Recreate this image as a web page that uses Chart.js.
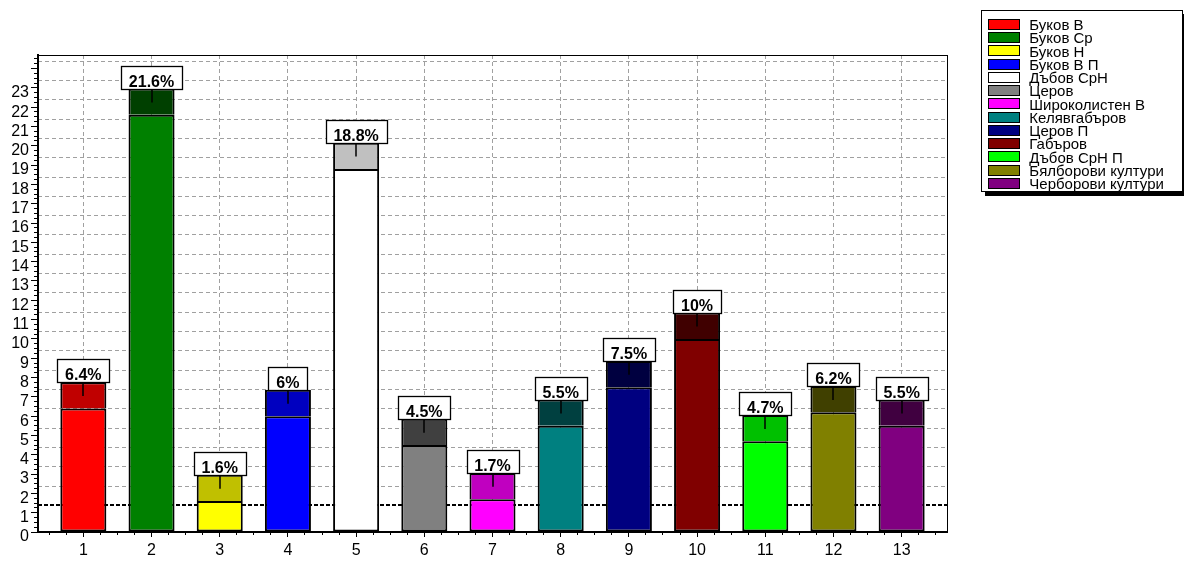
<!DOCTYPE html>
<html>
<head>
<meta charset="utf-8">
<script src="https://cdn.jsdelivr.net/npm/chart.js@4.4.1/dist/chart.umd.min.js"></script>
<style>
html,body{margin:0;padding:0;background:#fff;width:1184px;height:561px;overflow:hidden;}
#wrap{position:relative;width:1184px;height:561px;}
#c{position:absolute;left:0;top:0;}
#legend{position:absolute;left:981px;top:10px;width:202px;height:182px;border:1px solid #000;background:#fff;
  box-shadow:4px 4px 0 #000;font:15px "Liberation Sans",Arial,sans-serif;color:#000;box-sizing:border-box;padding-top:6.6px;}
.item{height:13.26px;position:relative;white-space:nowrap;}
.sw{position:absolute;left:6.3px;top:1.3px;width:32px;height:11px;border:1px solid #000;box-sizing:border-box;}
.lb{position:absolute;left:47.3px;top:-1.5px;line-height:17px;}
</style>
</head>
<body>
<div id="wrap">
  <canvas id="c" width="1184" height="561"></canvas>
  <div id="legend"></div>
</div>
<script>
// ---- data ----
const categories = [1, 2, 3, 4, 5, 6, 7, 8, 9, 10, 11, 12, 13];
const seriesNames = ['Буков В', 'Буков Ср', 'Буков Н', 'Буков В П', 'Дъбов СрН', 'Церов',
  'Широколистен В', 'Келявгабъров', 'Церов П', 'Габъров', 'Дъбов СрН П',
  'Бялборови култури', 'Черборови култури'];
const sharePercent = [6.4, 21.6, 1.6, 6, 18.8, 4.5, 1.7, 5.5, 7.5, 10, 4.7, 6.2, 5.5];
const upperBand = [1.36, 1.36, 1.36, 1.36, 1.36, 1.36, 1.36, 1.36, 1.36, 1.36, 1.36, 1.36, 1.36];
const errorHalf = [0.72, 0.72, 0.72, 0.72, 0.72, 0.72, 0.72, 0.72, 0.72, 0.72, 0.72, 0.72, 0.72];
const thresholdValue = 1.4;
const yTickValues = [0, 1, 2, 3, 4, 5, 6, 7, 8, 9, 10, 11, 12, 13, 14, 15, 16, 17, 18, 19, 20, 21, 22, 23];

// ---- styles ----
const baseColors = ['#FF0000', '#008000', '#FFFF00', '#0000FF', '#FFFFFF', '#808080', '#FF00FF',
  '#008080', '#000080', '#800000', '#00FF00', '#808000', '#800080'];
const topColors = ['#C00000', '#004000', '#C0C000', '#0000C0', '#C0C0C0', '#404040', '#C000C0',
  '#004040', '#000040', '#400000', '#00C000', '#404000', '#400040'];

const FONT = '"Liberation Sans", Arial, sans-serif';
const Y_MAX = 24.7, GRID_SHIFT = 0.38, X_MIN = 0.335, X_MAX = 13.665;
const GRID_COLOR = '#a0a0a0';

Chart.defaults.font.family = FONT;
Chart.defaults.color = '#000';

// legend
const legend = document.getElementById('legend');
seriesNames.forEach((n, i) => {
  const it = document.createElement('div');
  it.className = 'item';
  const sw = document.createElement('div');
  sw.className = 'sw';
  sw.style.background = baseColors[i];
  const lb = document.createElement('div');
  lb.className = 'lb';
  lb.textContent = n;
  it.appendChild(sw); it.appendChild(lb);
  legend.appendChild(it);
});

const overlay = {
  id: 'overlay',
  beforeDatasetsDraw(chart) {
    const {ctx, chartArea: a, scales: {y}} = chart;
    const py = y.getPixelForValue(thresholdValue);
    ctx.save();
    ctx.strokeStyle = '#000';
    ctx.lineWidth = 2;
    ctx.setLineDash([4, 2]);
    ctx.beginPath();
    ctx.moveTo(a.left, py);
    ctx.lineTo(a.right, py);
    ctx.stroke();
    ctx.restore();
  },
  afterDatasetsDraw(chart) {
    const {ctx, scales: {x, y}} = chart;
    ctx.save();
    categories.forEach((c, i) => {
      const total = sharePercent[i] + upperBand[i];
      const px = x.getPixelForValue(c);
      const pTop = y.getPixelForValue(total);
      const pLo = y.getPixelForValue(total - errorHalf[i]);
      ctx.strokeStyle = '#000';
      ctx.lineWidth = 1.5;
      ctx.beginPath();
      ctx.moveTo(Math.round(px), pTop);
      ctx.lineTo(Math.round(px), pLo);
      ctx.stroke();
      const text = sharePercent[i] + '%';
      ctx.font = 'bold 16px ' + FONT;
      const w = Math.round(ctx.measureText(text).width + 16);
      const h = 23;
      const bx = Math.round(px - w / 2) + 0.5;
      const by = Math.round(pTop - h) + 0.5;
      ctx.fillStyle = '#fff';
      ctx.fillRect(bx, by, w, h);
      ctx.lineWidth = 1.3;
      ctx.strokeRect(bx, by, w, h);
      ctx.fillStyle = '#000';
      ctx.textAlign = 'center';
      ctx.textBaseline = 'alphabetic';
      ctx.fillText(text, px, by + h - 3);
    });
    ctx.restore();
  }
};

new Chart(document.getElementById('c'), {
  type: 'bar',
  data: {
    datasets: [
      {
        label: 'share',
        data: categories.map((c, i) => ({x: c, y: sharePercent[i]})),
        backgroundColor: baseColors,
        borderColor: '#000',
        borderWidth: 2,
        borderSkipped: false,
        inflateAmount: 0,
        stack: 's',
        barPercentage: 0.675,
        categoryPercentage: 1,
        xAxisID: 'x', yAxisID: 'y'
      },
      {
        label: 'upper',
        data: categories.map((c, i) => ({x: c, y: upperBand[i]})),
        backgroundColor: topColors,
        borderColor: '#000',
        borderWidth: 2,
        borderSkipped: 'start',
        inflateAmount: 0,
        stack: 's',
        barPercentage: 0.675,
        categoryPercentage: 1,
        xAxisID: 'x', yAxisID: 'y'
      }
    ]
  },
  options: {
    responsive: false,
    animation: false,
    layout: {padding: {left: 0, top: 55, right: 237, bottom: 0}},
    plugins: {legend: {display: false}, tooltip: {enabled: false}},
    scales: {
      x: {
        type: 'linear', position: 'bottom', weight: 1, min: X_MIN, max: X_MAX, stacked: true, offset: false,
        ticks: {stepSize: 1, includeBounds: false, autoSkip: false, maxRotation: 0, padding: 4, font: {size: 16}, color: '#000'},
        grid: {offset: false, color: GRID_COLOR, lineWidth: 1, tickColor: '#000', tickLength: 5, drawOnChartArea: true},
        border: {display: true, color: '#000', width: 2, dash: [4, 3]},
        afterFit(s) { s.height = 29; }
      },
      xMinor: {
        type: 'linear', position: 'bottom', weight: 0, min: X_MIN, max: X_MAX, offset: false,
        ticks: {display: false, stepSize: 0.25, includeBounds: false},
        grid: {offset: false, drawOnChartArea: false, tickLength: 3, tickColor: '#000'},
        border: {display: false},
        afterFit(s) { s.height = 0; }
      },
      xFrame: {
        type: 'linear', position: 'top', min: X_MIN, max: X_MAX, offset: false,
        ticks: {display: false},
        grid: {display: false},
        border: {display: true, color: '#000', width: 1},
        afterFit(s) { s.height = 0; }
      },
      y: {
        type: 'linear', position: 'left', weight: 1, min: 0, max: Y_MAX, stacked: true,
        ticks: {
          stepSize: 1, includeBounds: false, autoSkip: false, labelOffset: 5, padding: 2,
          font: {size: 16}, color: '#000',
          callback: v => (yTickValues.includes(v) ? String(v) : '')
        },
        grid: {drawOnChartArea: false, tickLength: 7, tickColor: '#000'},
        border: {display: true, color: '#000', width: 2},
        afterFit(s) { s.width = 38; }
      },
      yMinor: {
        type: 'linear', position: 'left', weight: 0, min: 0, max: Y_MAX,
        ticks: {display: false, stepSize: 0.25, includeBounds: false},
        grid: {drawOnChartArea: false, tickLength: 4, tickColor: '#000'},
        border: {display: false},
        afterFit(s) { s.width = 0; }
      },
      yGrid: {
        type: 'linear', position: 'left', weight: 0, min: -GRID_SHIFT, max: Y_MAX - GRID_SHIFT,
        ticks: {display: false, stepSize: 1, includeBounds: false},
        grid: {
          drawOnChartArea: true, drawTicks: false, lineWidth: 1,
          color: c => (c.tick && c.tick.value < 2 ? 'rgba(0,0,0,0)' : GRID_COLOR)
        },
        border: {display: false, dash: [4, 3]},
        afterFit(s) { s.width = 0; }
      },
      yFrame: {
        type: 'linear', position: 'right', min: 0, max: Y_MAX,
        ticks: {display: false},
        grid: {display: false},
        border: {display: true, color: '#000', width: 1},
        afterFit(s) { s.width = 0; }
      }
    }
  },
  plugins: [overlay]
});
</script>
</body>
</html>
